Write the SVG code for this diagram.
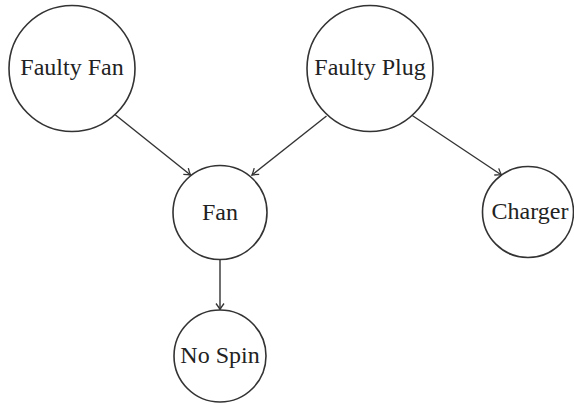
<svg xmlns="http://www.w3.org/2000/svg" width="574" height="404" viewBox="0 0 574 404">
<style>
.node circle{fill:#fff;stroke:#333;stroke-width:1.6}
.node text{font-family:"Liberation Serif","DejaVu Serif",serif;font-size:24px;fill:#222;text-anchor:middle}
.edge{stroke:#333;stroke-width:1.4;fill:none;marker-end:url(#arr)}
</style>
<defs>
<marker id="arr" markerUnits="userSpaceOnUse" viewBox="-8 -6 10 12" refX="0" refY="0" markerWidth="10" markerHeight="12" orient="auto" overflow="visible">
<path d="M-6,-4 Q-2,-1 0,0 Q-2,1 -6,4" fill="none" stroke="#333" stroke-width="1.3"/>
</marker>
</defs>
<rect width="574" height="404" fill="#fff"/>
<g id="connectors">
<line class="edge" x1="113" y1="113" x2="190.5" y2="175"/>
<line class="edge" x1="326.5" y1="116" x2="252" y2="175"/>
<line class="edge" x1="411.5" y1="115" x2="501.5" y2="175"/>
<line class="edge" x1="220" y1="259" x2="220" y2="309.5"/>
</g>
<g id="faulty-fan" class="node"><circle cx="72" cy="68.5" r="63"/><text x="72" y="75">Faulty Fan</text></g>
<g id="faulty-plug" class="node"><circle cx="370" cy="68.5" r="63"/><text x="370" y="75">Faulty Plug</text></g>
<g id="fan" class="node"><circle cx="220" cy="212.5" r="47"/><text x="220" y="220">Fan</text></g>
<g id="charger" class="node"><circle cx="528" cy="212" r="45.5"/><text x="530" y="219">Charger</text></g>
<g id="no-spin" class="node"><circle cx="220" cy="356" r="46"/><text x="220" y="363">No Spin</text></g>
</svg>
